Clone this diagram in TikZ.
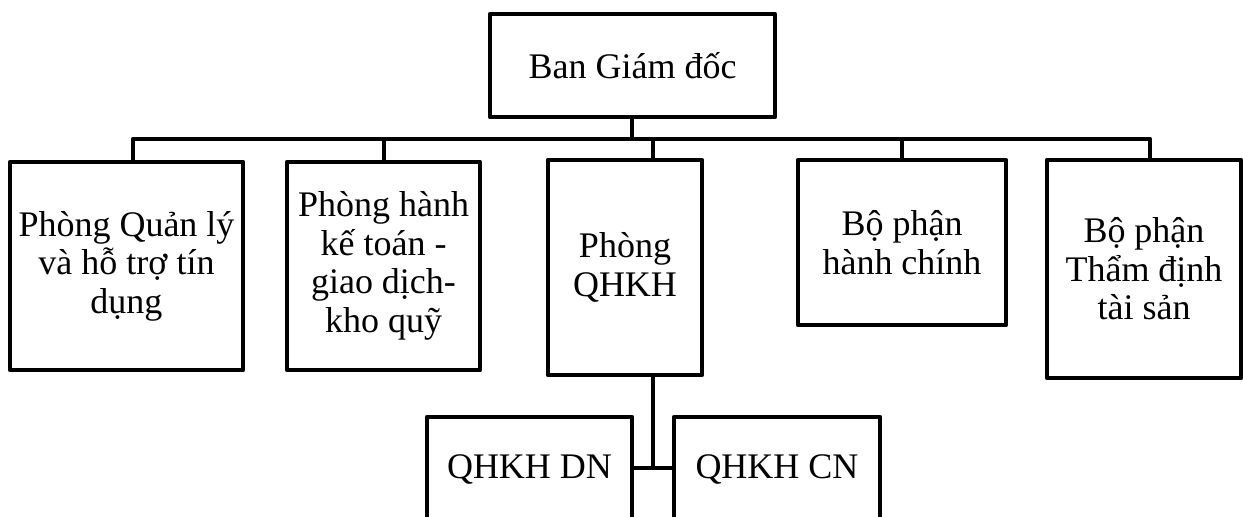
\documentclass[tikz,border=0pt]{standalone}
\usepackage{fontspec}
\setmainfont{Liberation Serif}
\begin{document}
\begin{tikzpicture}[x=1pt,y=-1pt,
  box/.style={draw=black,line width=4.5pt,line join=round,rectangle,inner sep=0pt,
    align=center,font=\fontsize{36}{38.5}\selectfont},
  link/.style={draw=black,line width=4.5pt,line join=round,line cap=rect}]
\useasboundingbox (0,0) rectangle (1243,517);
\clip (0,0) rectangle (1243,517);
\node[box,minimum width=285pt,minimum height=103pt] (top) at (632.5,65.5) {Ban Giám đốc};
\node[box,minimum width=233pt,minimum height=208pt] (b1) at (126.5,266) {Phòng Quản lý\\và hỗ trợ tín\\dụng};
\node[box,minimum width=193pt,minimum height=208pt] (b2) at (383.5,266) {Phòng hành\\kế toán -\\giao dịch-\\kho quỹ};
\node[box,minimum width=154pt,minimum height=215pt] (b3) at (625,267.5) {Phòng\\QHKH};
\node[box,minimum width=208pt,minimum height=165pt] (b4) at (902,242.5) {Bộ phận\\hành chính};
\node[box,minimum width=194pt,minimum height=218pt] (b5) at (1144,269) {Bộ phận\\Thẩm định\\tài sản};
\node[box,minimum width=205pt,minimum height=104pt] (dn) at (529.5,469) {QHKH DN};
\node[box,minimum width=206pt,minimum height=104pt] (cn) at (777,469) {QHKH CN};
% bus
\coordinate (t) at (632,139);
\coordinate (c1) at (133,139);
\coordinate (c2) at (384,139);
\coordinate (c3) at (653,139);
\coordinate (c4) at (902,139);
\coordinate (c5) at (1150,139);
\coordinate (j) at (653,468);
\draw[link] (top.south -| t) -- (t);
\draw[link] (c1 |- b1.north) -- (c1) -- (c5) -- (c5 |- b5.north);
\draw[link] (c2) -- (c2 |- b2.north);
\draw[link] (c3) -- (c3 |- b3.north);
\draw[link] (c4) -- (c4 |- b4.north);
\draw[link] (b3.south -| j) -- (j);
\draw[link] (dn.east |- j) -- (cn.west |- j);
\end{tikzpicture}
\end{document}
